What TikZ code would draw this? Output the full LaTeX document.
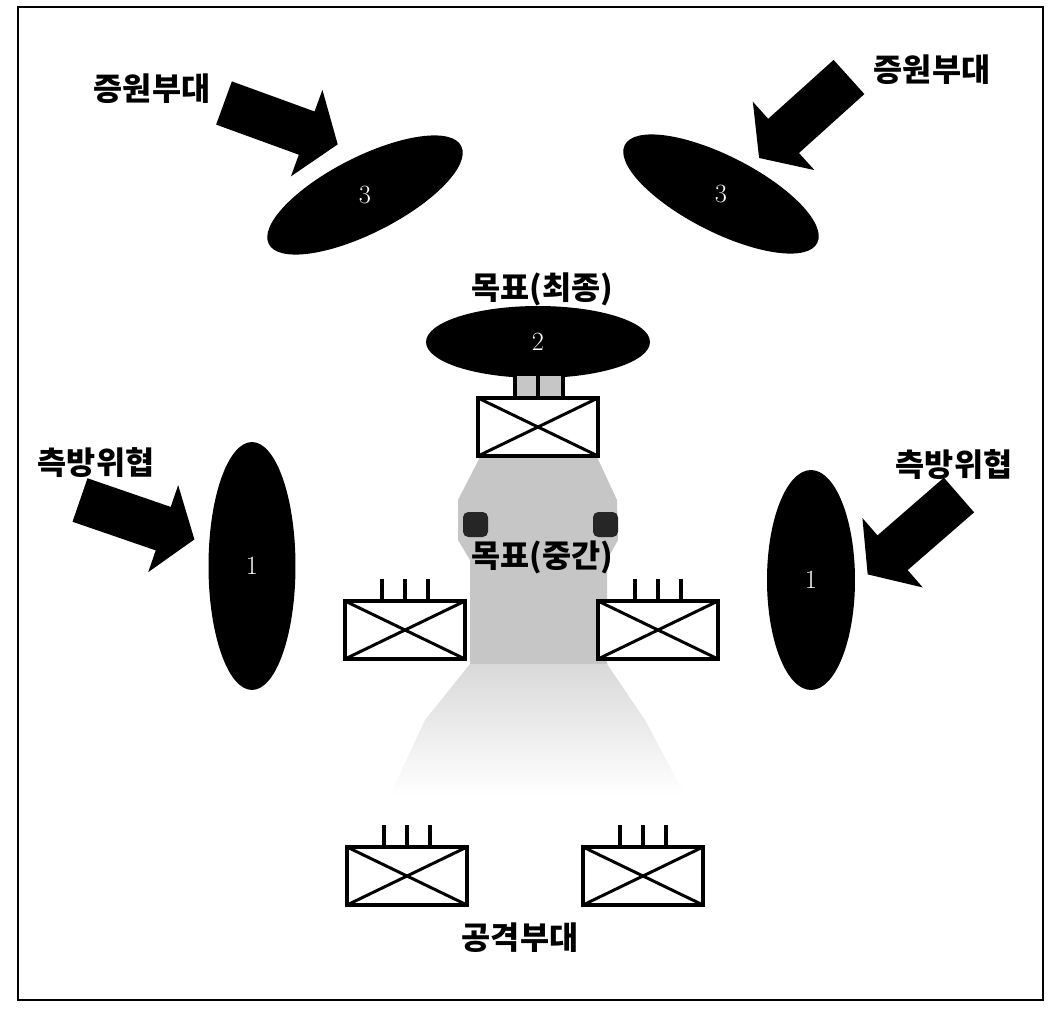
\documentclass[tikz,border=0pt]{standalone}
\usepackage{fontspec}
\newfontfamily\kr{Noto Sans CJK KR}
\usepackage{tikz}
\usetikzlibrary{shapes.geometric,calc}

\begin{document}
\begin{tikzpicture}[x=0.02cm,y=-0.02cm,
  lbl/.style={font=\kr\bfseries\fontsize{18}{20}\selectfont,inner sep=0pt},
  num/.style={font=\fontsize{15}{17}\selectfont,text=white,inner sep=0pt},
  unit/.style={ellipse,fill=black,inner sep=0pt},
  boxunit/.style={draw,fill=white,line width=2.1pt,minimum width=2.4cm,minimum height=1.16cm,inner sep=0pt,
    path picture={\draw[line width=1.7pt] (path picture bounding box.north west) -- (path picture bounding box.south east)
      (path picture bounding box.south west) -- (path picture bounding box.north east);}},
  stem/.style={line width=1.9pt},
  pics/bigarrow/.style={code={\fill (0,-23) -- (88,-23) -- (88,-46) -- (121,0) -- (88,46) -- (88,23) -- (0,23) -- cycle;}}]
  \useasboundingbox (0,0) rectangle (1059,1011);
  \draw[line width=1.3pt] (18,7) rectangle (1043,1000);

  \fill[gray!45] (480,457) -- (597,457) -- (617,500) -- (618,540) -- (607,560) -- (607,665) -- (470,665) -- (470,560) -- (458,540) -- (458,500) -- cycle;
  \shade[top color=gray!30,bottom color=white] (470,664) -- (607,664) -- (645,720) -- (685,795) -- (390,795) -- (425,720) -- cycle;
  \fill[black!85,rounded corners=3] (463,512) rectangle (488,537);
  \fill[black!85,rounded corners=3] (593,512) rectangle (618,537);

  \node[unit,minimum width=4.32cm,minimum height=1.52cm,rotate=27] (r3l) at (365,195) {};
  \node[unit,minimum width=4.32cm,minimum height=1.52cm,rotate=-27] (r3r) at (721,194) {};
  \node[unit,minimum width=4.48cm,minimum height=1.44cm] (goal) at (538,342) {};
  \node[unit,minimum width=1.74cm,minimum height=4.96cm] (flL) at (252,566) {};
  \node[unit,minimum width=1.76cm,minimum height=4.4cm] (flR) at (811,580) {};
  \node[num] (n3l) at (r3l.center) {3};
  \node[num] (n3r) at (r3r.center) {3};
  \node[num] (n2) at (goal.center) {2};
  \node[num] (n1l) at (flL.center) {1};
  \node[num] (n1r) at (flR.center) {1};

  \node[boxunit] (t0) at (538,427) {};
  \node[boxunit] (m1) at (405,630) {};
  \node[boxunit] (m2) at (658,630) {};
  \node[boxunit] (a1) at (407,876) {};
  \node[boxunit] (a2) at (643,876) {};

  \fill[gray!45] ($(t0.north)+(-23,0)$) rectangle ($(t0.north)+(25,-20)$);
  \foreach \dx in {-23,0,25}
    \draw[stem,line width=2.3pt] ($(t0.north)+(\dx,0)$) -- ++(0,-20);
  \foreach \b in {m1,m2,a1,a2}
    \foreach \dx in {-23,0,23}
      \draw[stem] ($(\b.north)+(\dx,0)$) -- ++(0,-20);

  \pic[rotate=-20] at (224,103) {bigarrow};
  \pic[rotate=222] at (849,77) {bigarrow};
  \pic[rotate=-19] at (80,500) {bigarrow};
  \pic[rotate=221] at (959,495) {bigarrow};

  \node[lbl] (reinfL) at (152,89) {증원부대};
  \node[lbl] (reinfR) at (932,70) {증원부대};
  \node[lbl] (goalfin) at (542,289) {목표(최종)};
  \node[lbl] (goalmid) at (542,557) {목표(중간)};
  \node[lbl] (flankL) at (96,463) {측방위협};
  \node[lbl] (flankR) at (954,465) {측방위협};
  \node[lbl] (attack) at (520,938) {공격부대};
\end{tikzpicture}
\end{document}
